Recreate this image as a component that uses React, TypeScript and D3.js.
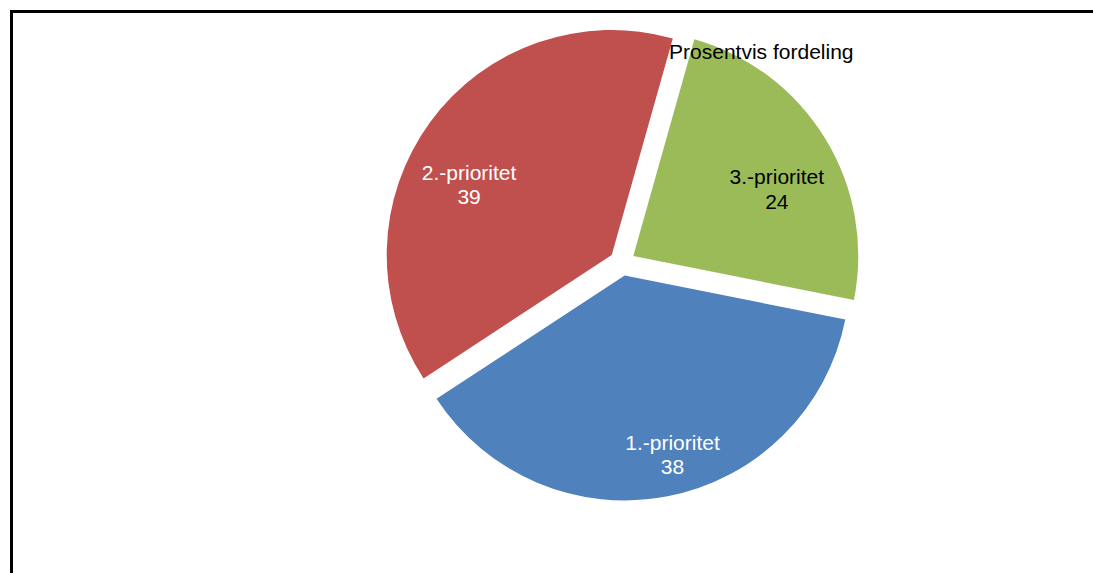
import React from "react";
import * as d3 from "d3";

const categories = ["1.-prioritet", "2.-prioritet", "3.-prioritet"];
const values = [38, 39, 24];
const title = "Prosentvis fordeling";

const COLORS = ["#4F81BD", "#C0504D", "#9BBB59"];
const LABEL_COLORS = ["#FFFFFF", "#FFFFFF", "#000000"];
// label placement: [distance from slice centre, angle offset in degrees]
const LABEL_LAYOUT: [number, number][] = [
  [185, -4],
  [159, -10],
  [158.5, 6.4],
];

const W = 1093;
const H = 573;
const CX = 622.2;
const CY = 262.7;
const R = 225;
const EXPLODE = 13;
const START = (101.3 * Math.PI) / 180;
const FONT = "'Liberation Sans', Arial, sans-serif";

export default function App() {
  const pie = d3
    .pie<number>()
    .sort(null)
    .startAngle(START)
    .endAngle(START + 2 * Math.PI)
    .value((d) => d);
  const arcs = pie(values);
  const arc = d3.arc<d3.PieArcDatum<number>>().innerRadius(0).outerRadius(R);

  return (
    <svg
      width={W}
      height={H}
      style={{ position: "absolute", left: 0, top: 0, background: "#fff" }}
    >
      <rect x={0} y={0} width={W} height={H} fill="#fff" />
      <rect
        x={11.5}
        y={11.5}
        width={1100}
        height={620}
        fill="none"
        stroke="#000"
        strokeWidth={3}
      />
      {arcs.map((a, i) => {
        const mid = (a.startAngle + a.endAngle) / 2;
        const ox = CX + EXPLODE * Math.sin(mid);
        const oy = CY - EXPLODE * Math.cos(mid);
        const [dist, off] = LABEL_LAYOUT[i];
        const la = mid + (off * Math.PI) / 180;
        const lx = ox + dist * Math.sin(la);
        const ly = oy - dist * Math.cos(la);
        return (
          <g key={categories[i]}>
            <path
              d={arc(a) || ""}
              transform={`translate(${ox},${oy})`}
              fill={COLORS[i]}
            />
            <text
              x={lx}
              y={ly}
              textAnchor="middle"
              fontFamily={FONT}
              fontSize={21}
              fill={LABEL_COLORS[i]}
            >
              <tspan x={lx} y={ly - 4.5}>
                {categories[i]}
              </tspan>
              <tspan x={lx} y={ly + 19.8}>
                {String(values[i])}
              </tspan>
            </text>
          </g>
        );
      })}
      <text
        x={761.3}
        y={59}
        textAnchor="middle"
        fontFamily={FONT}
        fontSize={21}
        fill="#000"
      >
        {title}
      </text>
    </svg>
  );
}
